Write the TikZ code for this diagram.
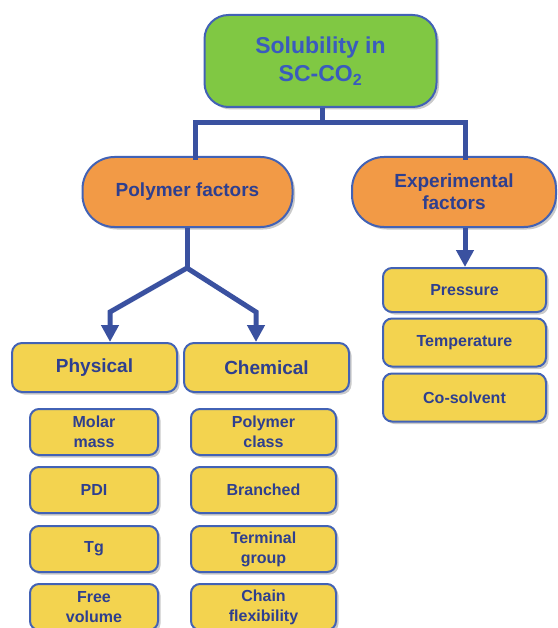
\documentclass[tikz,border=0pt]{standalone}
\usepackage{fontspec}
\setmainfont{Liberation Sans}
\usetikzlibrary{arrows.meta,shadows}
\definecolor{cgreen}{HTML}{80C843}
\definecolor{corange}{HTML}{F29A46}
\definecolor{cyellow}{HTML}{F3D34F}
\definecolor{cborder}{HTML}{4262B5}
\definecolor{cline}{HTML}{3A51A0}
\definecolor{ctext}{HTML}{2E3F8F}
\definecolor{ctitle}{HTML}{3A5BBE}
\tikzset{
  boxbase/.style={draw=cborder, line width=2pt, align=center, inner sep=0pt,
    text=ctext, font=\bfseries,
    drop shadow={shadow xshift=2.5pt, shadow yshift=-2.5pt, opacity=0.35, fill=black!60}},
  titlebox/.style={boxbase, fill=cgreen, rounded corners=24pt, text=ctitle,
    minimum width=232pt, minimum height=92pt, font=\bfseries\fontsize{23}{28}\selectfont},
  factorbox/.style={boxbase, fill=corange, rounded corners=32pt,
    minimum height=70pt, font=\bfseries\fontsize{19}{22}\selectfont},
  catbox/.style={boxbase, fill=cyellow, rounded corners=10pt,
    minimum width=165pt, minimum height=49pt, font=\bfseries\fontsize{19}{22}\selectfont},
  itembox/.style={boxbase, fill=cyellow, rounded corners=9pt,
    minimum height=46pt, font=\bfseries\fontsize{16}{20}\selectfont},
  conn/.style={draw=cline, line width=5pt},
  arr/.style={conn, -{Triangle[width=17pt,length=17pt]}},
}
\begin{document}
\begin{tikzpicture}[x=1pt,y=-1pt]
\useasboundingbox (0,0) rectangle (557,628);
\clip (0,0) rectangle (557,628);
% connectors first
\coordinate (tj) at (322,123);
\coordinate (tl) at (195,123);
\coordinate (tr) at (465,123);
\coordinate (tld) at (195,160);
\coordinate (trd) at (465,160);
\coordinate (pj) at (187,268);
\coordinate (pl) at (110,312);
\coordinate (pr) at (256,312);
\coordinate (pla) at (110,343);
\coordinate (pra) at (256,343);
\coordinate (ps) at (187,225);
\coordinate (es) at (465,225);
\coordinate (ea) at (465,267);
\coordinate (ts) at (322,105);

% nodes
\node[titlebox] (top) at (320.5,61) {Solubility in\\SC-CO\textsubscript{2}};
\node[factorbox, minimum width=210pt] (poly) at (187.5,192) {Polymer factors};
\node[factorbox, minimum width=204pt] (exp) at (454,192) {Experimental\\factors};

\node[catbox] (phys) at (94.5,367.5) {Physical};
\node[catbox] (chem) at (266.5,367.5) {Chemical};

\node[itembox, minimum width=128pt] (mm) at (94,432) {Molar\\mass};
\node[itembox, minimum width=128pt] (pdi) at (94,490) {PDI};
\node[itembox, minimum width=128pt] (tg) at (94,549) {Tg};
\node[itembox, minimum width=128pt] (fv) at (94,607) {Free\\volume};

\node[itembox, minimum width=145pt] (pc) at (263.5,432) {Polymer\\class};
\node[itembox, minimum width=145pt] (br) at (263.5,490) {Branched};
\node[itembox, minimum width=145pt] (tgp) at (263.5,549) {Terminal\\group};
\node[itembox, minimum width=145pt] (cf) at (263.5,607) {Chain\\flexibility};

\node[itembox, minimum width=163pt, minimum height=44pt] (pres) at (464.5,290) {Pressure};
\node[itembox, minimum width=163pt, minimum height=48pt] (temp) at (464.5,342.5) {Temperature};
\node[itembox, minimum width=163pt, minimum height=48pt] (cos) at (464.5,397.5) {Co-solvent};

% connectors
\begin{scope}[on background layer/.style={}]
\draw[conn] (top.south -| ts) -- (tj);
\draw[conn, line join=miter] (tld) -- (tl) -- (tr) -- (trd);
\draw[conn] (poly.south -| ps) -- (pj);
\draw[arr, line join=miter] (pj) -- (pl) -- (phys.north -| pla);
\draw[arr, line join=miter] (pj) -- (pr) -- (chem.north -| pra);
\draw[arr] (exp.south -| es) -- (pres.north -| ea);
\end{scope}
\end{tikzpicture}
\end{document}
